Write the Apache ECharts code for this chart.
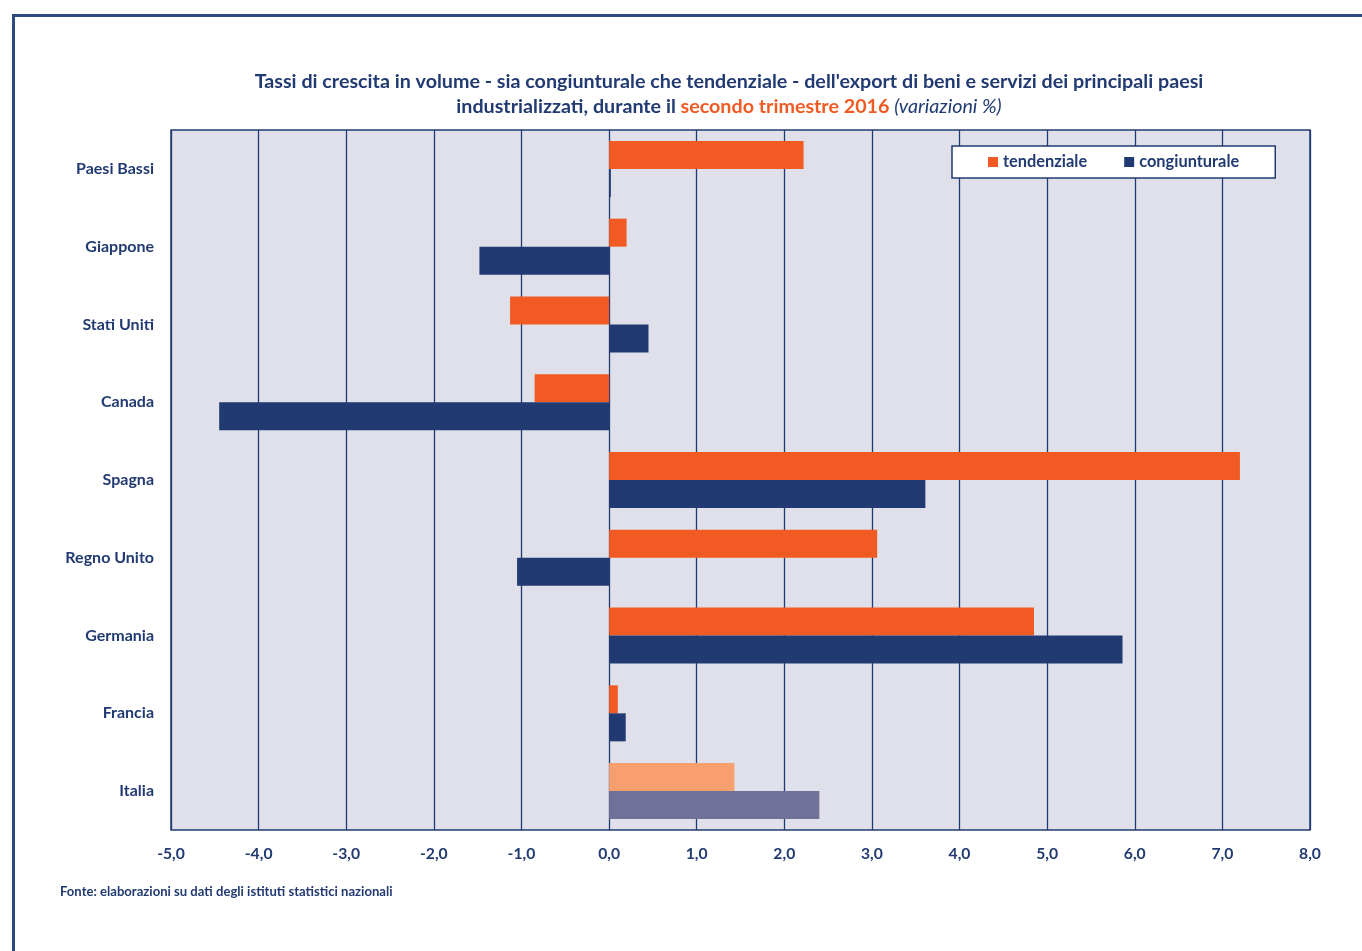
<!DOCTYPE html>
<html>
<head>
<meta charset="utf-8">
<script src="https://cdn.jsdelivr.net/npm/echarts@6/dist/echarts.min.js"></script>
<style>
  html, body { margin: 0; padding: 0; background: #fff; }
  #chart { width: 1362px; height: 951px; }
</style>
</head>
<body>
<div id="chart"></div>
<script>
// paesi, dall'alto verso il basso
const paesi = ['Paesi Bassi', 'Giappone', 'Stati Uniti', 'Canada', 'Spagna', 'Regno Unito', 'Germania', 'Francia', 'Italia'];
// variazioni % secondo trimestre 2016
const tendenziale = [2.22, 0.20, -1.13, -0.85, 7.20, 3.06, 4.85, 0.10, 1.43];
const congiunturale = [0.02, -1.48, 0.45, -4.45, 3.61, -1.05, 5.86, 0.19, 2.40];
const asseMin = -5;
const asseMax = 8;

const NAVY = '#213a72';
const ORANGE = '#f15a22';
const FONT = 'Lato';

// l'Italia ha colori più chiari
function evidenzia(values, light) {
  return values.map((v, i) => paesi[i] === 'Italia' ? { value: v, itemStyle: { color: light } } : v);
}

const chart = echarts.init(document.getElementById('chart'));
chart.setOption({
  animation: false,
  textStyle: { fontFamily: FONT },
  title: {
    text: "Tassi di crescita in volume - sia congiunturale che tendenziale - dell'export di beni e servizi dei principali paesi\nindustrializzati, durante il {o|secondo trimestre 2016} {i|(variazioni %)}",
    left: 724,
    textAlign: 'center',
    top: 64,
    textStyle: {
      fontFamily: FONT,
      fontSize: 19.7,
      fontWeight: 'bold',
      color: NAVY,
      lineHeight: 25,
      rich: {
        o: { fontFamily: FONT, fontSize: 19.7, fontWeight: 'bold', color: ORANGE, lineHeight: 25 },
        i: { fontFamily: FONT, fontSize: 19.7, fontStyle: 'italic', fontWeight: 'normal', color: NAVY, lineHeight: 25 }
      }
    }
  },
  legend: {
    left: 952,
    top: 146,
    padding: [8, 36],
    backgroundColor: '#fff',
    borderColor: NAVY,
    borderWidth: 1.5,
    borderRadius: 0,
    icon: 'rect',
    itemWidth: 10,
    itemHeight: 10,
    itemGap: 37,
    textStyle: { fontFamily: FONT, fontSize: 16.4, fontWeight: 'bold', color: NAVY },
    data: ['tendenziale', 'congiunturale']
  },
  grid: {
    left: 171,
    top: 130,
    width: 1139,
    height: 700,
    show: true,
    backgroundColor: '#dfe0ea',
    borderColor: NAVY,
    borderWidth: 1.5
  },
  xAxis: {
    type: 'value',
    min: asseMin,
    max: asseMax,
    interval: 1,
    axisLine: { show: false },
    axisTick: { show: false },
    splitLine: { lineStyle: { color: NAVY, width: 1.3 } },
    axisLabel: {
      margin: 16,
      fontFamily: FONT,
      fontSize: 15.7,
      fontWeight: 'bold',
      color: NAVY,
      formatter: v => v.toFixed(1).replace('.', ',')
    }
  },
  yAxis: {
    type: 'category',
    inverse: true,
    data: paesi,
    axisLine: { show: false },
    axisTick: { show: false },
    axisLabel: {
      margin: 17,
      fontFamily: FONT,
      fontSize: 16,
      fontWeight: 'bold',
      color: NAVY
    }
  },
  series: [
    {
      name: 'tendenziale',
      type: 'bar',
      barWidth: 28,
      barGap: '0%',
      itemStyle: { color: ORANGE },
      data: evidenzia(tendenziale, '#f79f6e')
    },
    {
      name: 'congiunturale',
      type: 'bar',
      barWidth: 28,
      barGap: '0%',
      itemStyle: { color: NAVY },
      data: evidenzia(congiunturale, '#6f7199')
    }
  ],
  graphic: [
    {
      type: 'rect',
      shape: { x: 13.5, y: 15.5, width: 1500, height: 1100 },
      style: { fill: 'none', stroke: '#2b4a82', lineWidth: 3 }
    },
    {
      type: 'text',
      left: 60,
      top: 885,
      style: {
        text: 'Fonte: elaborazioni su dati degli istituti statistici nazionali',
        font: 'bold 13.1px ' + FONT,
        fill: NAVY
      }
    }
  ]
});
</script>
</body>
</html>
